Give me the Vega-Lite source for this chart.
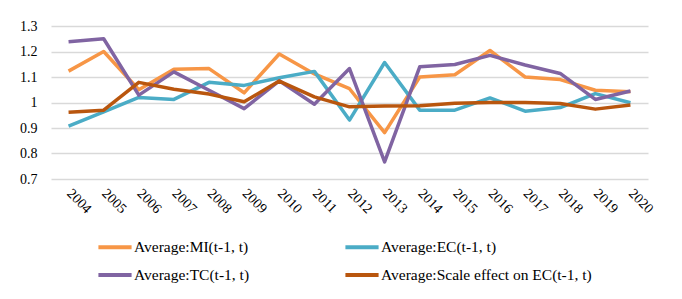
{
  "$schema": "https://vega.github.io/schema/vega-lite/v6.json",
  "autosize": {"type": "none"},
  "width": 597,
  "height": 153,
  "padding": {"left": 51, "top": 26, "right": 34, "bottom": 120},
  "background": "white",
  "data": {
    "values": [
      {"year": "2004", "series": "Average:MI(t-1, t)", "value": 1.123},
      {"year": "2005", "series": "Average:MI(t-1, t)", "value": 1.2},
      {"year": "2006", "series": "Average:MI(t-1, t)", "value": 1.05},
      {"year": "2007", "series": "Average:MI(t-1, t)", "value": 1.13},
      {"year": "2008", "series": "Average:MI(t-1, t)", "value": 1.133},
      {"year": "2009", "series": "Average:MI(t-1, t)", "value": 1.038},
      {"year": "2010", "series": "Average:MI(t-1, t)", "value": 1.19},
      {"year": "2011", "series": "Average:MI(t-1, t)", "value": 1.112},
      {"year": "2012", "series": "Average:MI(t-1, t)", "value": 1.054},
      {"year": "2013", "series": "Average:MI(t-1, t)", "value": 0.882},
      {"year": "2014", "series": "Average:MI(t-1, t)", "value": 1.1},
      {"year": "2015", "series": "Average:MI(t-1, t)", "value": 1.109},
      {"year": "2016", "series": "Average:MI(t-1, t)", "value": 1.204},
      {"year": "2017", "series": "Average:MI(t-1, t)", "value": 1.1},
      {"year": "2018", "series": "Average:MI(t-1, t)", "value": 1.09},
      {"year": "2019", "series": "Average:MI(t-1, t)", "value": 1.048},
      {"year": "2020", "series": "Average:MI(t-1, t)", "value": 1.042},
      {"year": "2004", "series": "Average:EC(t-1, t)", "value": 0.907},
      {"year": "2005", "series": "Average:EC(t-1, t)", "value": 0.963},
      {"year": "2006", "series": "Average:EC(t-1, t)", "value": 1.02},
      {"year": "2007", "series": "Average:EC(t-1, t)", "value": 1.012},
      {"year": "2008", "series": "Average:EC(t-1, t)", "value": 1.079},
      {"year": "2009", "series": "Average:EC(t-1, t)", "value": 1.067},
      {"year": "2010", "series": "Average:EC(t-1, t)", "value": 1.097},
      {"year": "2011", "series": "Average:EC(t-1, t)", "value": 1.122},
      {"year": "2012", "series": "Average:EC(t-1, t)", "value": 0.931},
      {"year": "2013", "series": "Average:EC(t-1, t)", "value": 1.157},
      {"year": "2014", "series": "Average:EC(t-1, t)", "value": 0.97},
      {"year": "2015", "series": "Average:EC(t-1, t)", "value": 0.97},
      {"year": "2016", "series": "Average:EC(t-1, t)", "value": 1.018},
      {"year": "2017", "series": "Average:EC(t-1, t)", "value": 0.966},
      {"year": "2018", "series": "Average:EC(t-1, t)", "value": 0.98},
      {"year": "2019", "series": "Average:EC(t-1, t)", "value": 1.035},
      {"year": "2020", "series": "Average:EC(t-1, t)", "value": 0.999},
      {"year": "2004", "series": "Average:TC(t-1, t)", "value": 1.238},
      {"year": "2005", "series": "Average:TC(t-1, t)", "value": 1.25},
      {"year": "2006", "series": "Average:TC(t-1, t)", "value": 1.029},
      {"year": "2007", "series": "Average:TC(t-1, t)", "value": 1.12},
      {"year": "2008", "series": "Average:TC(t-1, t)", "value": 1.048},
      {"year": "2009", "series": "Average:TC(t-1, t)", "value": 0.976},
      {"year": "2010", "series": "Average:TC(t-1, t)", "value": 1.085},
      {"year": "2011", "series": "Average:TC(t-1, t)", "value": 0.993},
      {"year": "2012", "series": "Average:TC(t-1, t)", "value": 1.133},
      {"year": "2013", "series": "Average:TC(t-1, t)", "value": 0.767},
      {"year": "2014", "series": "Average:TC(t-1, t)", "value": 1.14},
      {"year": "2015", "series": "Average:TC(t-1, t)", "value": 1.149},
      {"year": "2016", "series": "Average:TC(t-1, t)", "value": 1.185},
      {"year": "2017", "series": "Average:TC(t-1, t)", "value": 1.147},
      {"year": "2018", "series": "Average:TC(t-1, t)", "value": 1.114},
      {"year": "2019", "series": "Average:TC(t-1, t)", "value": 1.012},
      {"year": "2020", "series": "Average:TC(t-1, t)", "value": 1.045},
      {"year": "2004", "series": "Average:Scale effect on EC(t-1, t)", "value": 0.962},
      {"year": "2005", "series": "Average:Scale effect on EC(t-1, t)", "value": 0.97},
      {"year": "2006", "series": "Average:Scale effect on EC(t-1, t)", "value": 1.079},
      {"year": "2007", "series": "Average:Scale effect on EC(t-1, t)", "value": 1.052},
      {"year": "2008", "series": "Average:Scale effect on EC(t-1, t)", "value": 1.033},
      {"year": "2009", "series": "Average:Scale effect on EC(t-1, t)", "value": 1.003},
      {"year": "2010", "series": "Average:Scale effect on EC(t-1, t)", "value": 1.084},
      {"year": "2011", "series": "Average:Scale effect on EC(t-1, t)", "value": 1.022},
      {"year": "2012", "series": "Average:Scale effect on EC(t-1, t)", "value": 0.983},
      {"year": "2013", "series": "Average:Scale effect on EC(t-1, t)", "value": 0.986},
      {"year": "2014", "series": "Average:Scale effect on EC(t-1, t)", "value": 0.987},
      {"year": "2015", "series": "Average:Scale effect on EC(t-1, t)", "value": 0.997},
      {"year": "2016", "series": "Average:Scale effect on EC(t-1, t)", "value": 1.0},
      {"year": "2017", "series": "Average:Scale effect on EC(t-1, t)", "value": 1.0},
      {"year": "2018", "series": "Average:Scale effect on EC(t-1, t)", "value": 0.996},
      {"year": "2019", "series": "Average:Scale effect on EC(t-1, t)", "value": 0.974},
      {"year": "2020", "series": "Average:Scale effect on EC(t-1, t)", "value": 0.99}
    ]
  },
  "mark": {"type": "line", "strokeWidth": 3.5, "strokeJoin": "round", "strokeCap": "butt"},
  "encoding": {
    "x": {
      "field": "year",
      "type": "ordinal",
      "scale": {"type": "point", "padding": 0.5},
      "axis": {
        "title": null,
        "domain": false,
        "ticks": false,
        "grid": false,
        "labelAngle": 45,
        "labelAlign": "left",
        "labelBaseline": "middle",
        "labelPadding": 12,
        "labelFont": "Liberation Serif",
        "labelFontSize": 14,
        "labelColor": "#000000"
      }
    },
    "y": {
      "field": "value",
      "type": "quantitative",
      "scale": {"domain": [0.7, 1.3], "nice": false, "zero": false},
      "axis": {
        "title": null,
        "values": [0.7, 0.8, 0.9, 1, 1.1, 1.2, 1.3],
        "format": "~g",
        "domain": false,
        "ticks": false,
        "grid": true,
        "gridColor": "#d9d9d9",
        "gridWidth": 1.3,
        "labelPadding": 14,
        "labelFont": "Liberation Serif",
        "labelFontSize": 14,
        "labelColor": "#000000"
      }
    },
    "color": {
      "field": "series",
      "type": "nominal",
      "scale": {
        "domain": ["Average:MI(t-1, t)", "Average:EC(t-1, t)", "Average:TC(t-1, t)", "Average:Scale effect on EC(t-1, t)"],
        "range": ["#F79646", "#4BACC6", "#8064A2", "#B9560E"]
      },
      "legend": {
        "title": null,
        "orient": "none",
        "legendX": 45,
        "legendY": 202,
        "columns": 2,
        "direction": "horizontal",
        "symbolType": "stroke",
        "symbolSize": 1100,
        "symbolStrokeWidth": 4,
        "labelFont": "Liberation Serif",
        "labelFontSize": 15.5,
        "labelColor": "#000000",
        "labelOffset": 0,
        "columnPadding": 87,
        "rowPadding": -8,
        "labelLimit": 400
      }
    }
  },
  "config": {"view": {"stroke": null}}
}
